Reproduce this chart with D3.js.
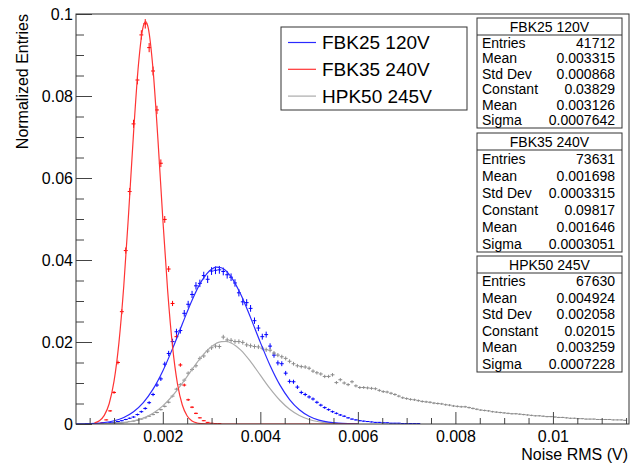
<!DOCTYPE html>
<html><head><meta charset="utf-8">
<script src="https://cdn.jsdelivr.net/npm/d3@7"></script>
<style>
body{margin:0;background:#fff}
svg{display:block}
text{font-family:"Liberation Sans",Arial,Helvetica,sans-serif}
</style>
</head><body>
<svg id="c" width="636" height="463"></svg>
<script>
// ---------------- DATA ----------------
const binCenters = [
  0.00028,0.00036,0.00044,0.00052,0.0006,0.00068,0.00076,
  0.00084,0.00092,0.001,0.00108,0.00116,0.00124,0.00132,0.0014,0.00148,0.00156,
  0.00164,0.00172,0.0018,0.00188,0.00196,0.00204,0.00212,0.0022,0.00228,0.00236,
  0.00244,0.00252,0.0026,0.00268,0.00276,0.00284,0.00292,0.003,0.00308,0.00316,
  0.00324,0.00332,0.0034,0.00348,0.00356,0.00364,0.00372,0.0038,0.00388,0.00396,
  0.00404,0.00412,0.0042,0.00428,0.00436,0.00444,0.00452,0.0046,0.00468,0.00476,
  0.00484,0.00492,0.005,0.00508,0.00516,0.00524,0.00532,0.0054,0.00548,0.00556,
  0.00564,0.00572,0.0058,0.00588,0.00596,0.00604,0.00612,0.0062,0.00628,0.00636,
  0.00644,0.00652,0.0066,0.00668,0.00676,0.00684,0.00692,0.007,0.00708,0.00716,
  0.00724,0.00732,0.0074,0.00748,0.00756,0.00764,0.00772,0.0078,0.00788,0.00796,
  0.00804,0.00812,0.0082,0.00828,0.00836,0.00844,0.00852,0.0086,0.00868,0.00876,
  0.00884,0.00892,0.009,0.00908,0.00916,0.00924,0.00932,0.0094,0.00948,0.00956,
  0.00964,0.00972,0.0098,0.00988,0.00996,0.01004,0.01012,0.0102,0.01028,0.01036,
  0.01044,0.01052,0.0106,0.01068,0.01076,0.01084,0.01092,0.011,0.01108,0.01116,
  0.01124,0.01132,0.0114,0.01148
];
const binHalfWidth = 0.00004;

const fbk25Values = [
  0,0,0,0,0,0,0.0001,
  0.0002,0.0003,0.0004,0.0006,0.0008,0.0011,0.0014,0.0017,0.0023,0.0030,
  0.0038,0.0052,0.0072,0.0095,0.0110,0.0146,0.0172,0.0201,0.0225,0.0228,
  0.0270,0.0292,0.0316,0.0337,0.0343,0.0362,0.0353,0.0373,0.0375,0.0376,
  0.0372,0.0364,0.0358,0.0344,0.0320,0.0298,0.0296,0.0282,0.0252,0.0234,
  0.0213,0.0218,0.0190,0.0168,0.0149,0.0147,0.0124,0.0104,0.0103,0.0090,
  0.0077,0.0072,0.0066,0.0061,0.0053,0.0046,0.0040,0.0035,0.0030,0.0026,
  0.0022,0.0019,0.0015,0.0012,0.0010,0.0008,0.0007,0.0006,0.0005,0.0004,
  0.0004,0.0003,0.0003,0.0002,0.0002,0.0002,0.0001,0.0001,0.0001,0.0001,
  0.0001
];
const fbk35Values = [
  0,0,0,0,0,0.0001,0.0003,
  0.0010,0.0032,0.0077,0.0150,0.0274,0.0423,0.0567,0.0732,0.0839,0.0949,
  0.0976,0.0918,0.0861,0.0766,0.0636,0.0499,0.0378,0.0294,0.0213,0.0144,
  0.0095,0.0059,0.0041,0.0026,0.0015,0.0008,0.0004,0.0002,0.0001,0.0001
];
const hpk50Values = [
  0,0,0,0,0,0,0,
  0.0001,0.0001,0.0002,0.0003,0.0003,0.0004,0.0006,0.0007,0.0009,0.0012,
  0.0015,0.0019,0.0023,0.0028,0.0035,0.0043,0.0053,0.0068,0.0085,0.0096,
  0.0107,0.0124,0.0133,0.0142,0.0160,0.0166,0.0178,0.0186,0.0190,0.0189,
  0.0212,0.0205,0.0204,0.0201,0.0201,0.0199,0.0193,0.0191,0.0189,0.0188,
  0.0185,0.0181,0.0180,0.0173,0.0168,0.0164,0.0160,0.0153,0.0147,0.0142,
  0.0140,0.0139,0.0136,0.0129,0.0125,0.0122,0.0116,0.0116,0.0120,0.0101,
  0.0108,0.0100,0.0096,0.0103,0.0093,0.0089,0.0089,0.0088,0.0087,0.0086,
  0.0082,0.0079,0.0078,0.0075,0.0072,0.0068,0.0064,0.0062,0.0060,0.0059,
  0.0057,0.0055,0.0054,0.0053,0.0051,0.0050,0.0049,0.0047,0.0046,0.0044,
  0.0043,0.0042,0.0042,0.0040,0.0038,0.0036,0.0034,0.0033,0.0032,0.0030,
  0.0029,0.0028,0.0027,0.0026,0.0025,0.0025,0.0024,0.0023,0.0022,0.0021,
  0.0020,0.0020,0.0019,0.0018,0.0018,0.0017,0.0016,0.0016,0.0015,0.0014,
  0.0014,0.0013,0.0013,0.0012,0.0012,0.0012,0.0011,0.0011,0.0011,0.0011,
  0.0010,0.0010,0.0010,0.0009
];

// fit curves
const fbk35FitX = [0.0006,0.0007,0.0008,0.0009,0.0010,0.0011,0.0012,0.0013,0.0014,0.0015,0.0016,0.00165,0.0017,0.0018,0.0019,0.0020,0.0021,0.0022,0.0023,0.0024,0.0025,0.0026,0.0027,0.0028,0.0029,0.0030,0.0040,0.0050,0.0060];
const fbk35FitY = [0.000275,0.000803,0.0021,0.00494,0.01044,0.0198,0.03373,0.0516,0.07094,0.08755,0.09706,0.09816,0.09665,0.08643,0.06942,0.05009,0.03244,0.01888,0.00986,0.00463,0.00195,0.00074,0.00025,0.00008,0.00002,0,0,0,0];
const fbk25FitX = [0.0002,0.0004,0.0006,0.0008,0.0010,0.0012,0.0014,0.0016,0.0018,0.0020,0.0022,0.0024,0.0026,0.0028,0.0030,0.0031,0.0032,0.0034,0.0036,0.0038,0.0040,0.0042,0.0044,0.0046,0.0048,0.0050,0.0052,0.0054,0.0056,0.0058,0.0060];
const fbk25FitY = [0.000025,0.000066,0.000162,0.000373,0.000799,0.0016,0.00299,0.00521,0.0085,0.01294,0.01838,0.02438,0.03021,0.03496,0.03777,0.03827,0.03811,0.0359,0.03159,0.02595,0.01991,0.01427,0.00954,0.00596,0.00347,0.00189,0.000963,0.000457,0.000203,0.000084,0.000033];
const hpk50FitX = [0.0002,0.0004,0.0006,0.0008,0.0010,0.0012,0.0014,0.0016,0.0018,0.0020,0.0022,0.0024,0.0026,0.0028,0.0030,0.0032,0.0033,0.0034,0.0036,0.0038,0.0040,0.0042,0.0044,0.0046,0.0048,0.0050,0.0052,0.0054,0.0056,0.0058,0.0060];
const hpk50FitY = [0.0000026,0.000008,0.000023,0.000062,0.000153,0.000348,0.000737,0.001447,0.002628,0.00442,0.00689,0.00995,0.0133,0.01647,0.0189,0.02008,0.02012,0.01977,0.01803,0.01523,0.01191,0.00863,0.0058,0.0036,0.00208,0.00111,0.000547,0.000251,0.000106,0.000042,0.000015];

const xTickValues = [0.002,0.004,0.006,0.008,0.01];
const xTickLabels = ["0.002","0.004","0.006","0.008","0.01"];
const yTickValues = [0,0.02,0.04,0.06,0.08,0.1];
const yTickLabels = ["0","0.02","0.04","0.06","0.08","0.1"];

const seriesNames = ["FBK25 120V","FBK35 240V","HPK50 245V"];
const seriesEntries = [41712,73631,67630];
const statLabels = ["Entries","Mean","Std Dev","Constant","Mean","Sigma"];
const fbk25Stats = ["41712","0.003315","0.000868","0.03829","0.003126","0.0007642"];
const fbk35Stats = ["73631","0.001698","0.0003315","0.09817","0.001646","0.0003051"];
const hpk50Stats = ["67630","0.004924","0.002058","0.02015","0.003259","0.0007228"];

// ---------------- DRAWING ----------------
const svg = d3.select("#c");
const F = {l:76, r:629, t:14, b:424};
const x = d3.scaleLinear().domain([0.00022,0.01156]).range([F.l,F.r]);
const y = d3.scaleLinear().domain([0,0.1]).range([F.b,F.t]);

svg.append("rect").attr("width",636).attr("height",463).attr("fill","#fff");
svg.append("defs").append("clipPath").attr("id","clip")
  .append("rect").attr("x",F.l).attr("y",F.t).attr("width",F.r-F.l).attr("height",F.b-F.t);

const colors = {blue:"#0000ff", red:"#ff0000", gray:"#8c8c8c"};
const fitColors = {blue:"#2a2aff", red:"#ff3434", gray:"#ababab"};

function drawHist(values, N, color){
  const pts = binCenters.map((c,i)=>({c, v: values[i]||0})).filter(d=>d.v>0);
  const g = svg.append("g").attr("clip-path","url(#clip)")
    .attr("stroke",color).attr("stroke-width",1).attr("fill","none");
  g.selectAll("line.h").data(pts).join("line").attr("class","h")
    .attr("x1",d=>x(d.c-binHalfWidth)).attr("x2",d=>x(d.c+binHalfWidth))
    .attr("y1",d=>y(d.v)).attr("y2",d=>y(d.v));
  g.selectAll("line.v").data(pts).join("line").attr("class","v")
    .attr("x1",d=>x(d.c)).attr("x2",d=>x(d.c))
    .attr("y1",d=>y(d.v-Math.sqrt(d.v/N))).attr("y2",d=>y(d.v+Math.sqrt(d.v/N)));
}
function drawFit(xs, ys, color){
  const line = d3.line().x(d=>x(d[0])).y(d=>y(d[1])).curve(d3.curveMonotoneX);
  svg.append("path").attr("clip-path","url(#clip)")
    .datum(xs.map((v,i)=>[v,ys[i]]))
    .attr("d",line).attr("fill","none").attr("stroke",color).attr("stroke-width",1.2);
}

drawHist(fbk25Values, seriesEntries[0], colors.blue);
drawHist(fbk35Values, seriesEntries[1], colors.red);
drawHist(hpk50Values, seriesEntries[2], colors.gray);
drawFit(hpk50FitX, hpk50FitY, fitColors.gray);
drawFit(fbk25FitX, fbk25FitY, fitColors.blue);
drawFit(fbk35FitX, fbk35FitY, fitColors.red);

// axes (ticks inside the frame, ROOT style)
const axisColor = "#444";
const gx = svg.append("g").attr("transform",`translate(0,${F.b})`)
  .call(d3.axisBottom(x).tickValues(xTickValues).tickFormat((d,i)=>xTickLabels[i]).tickSize(-12).tickPadding(7));
const minorX = d3.range(1,24).map(i=>i*0.0005).filter(v=>Math.abs(v/0.002-Math.round(v/0.002))>1e-6 && v>0.00022 && v<0.01156);
const gxm = svg.append("g").attr("transform",`translate(0,${F.b})`)
  .call(d3.axisBottom(x).tickValues(minorX).tickFormat("").tickSize(-6));
const gy = svg.append("g").attr("transform",`translate(${F.l},0)`)
  .call(d3.axisLeft(y).tickValues(yTickValues).tickFormat((d,i)=>yTickLabels[i]).tickSize(-16).tickPadding(3));
const minorY = d3.range(1,20).map(i=>i*0.005).filter(v=>Math.abs(v/0.02-Math.round(v/0.02))>1e-6);
const gym = svg.append("g").attr("transform",`translate(${F.l},0)`)
  .call(d3.axisLeft(y).tickValues(minorY).tickFormat("").tickSize(-8));
[gx,gxm,gy,gym].forEach(g=>{
  g.select(".domain").remove();
  g.attr("font-size",16).attr("font-family",'"Liberation Sans",Arial,sans-serif');
  g.selectAll("line").attr("stroke",axisColor);
  g.selectAll("text").attr("fill","#000");
});

// frame
svg.append("rect").attr("x",F.l).attr("y",F.t).attr("width",F.r-F.l).attr("height",F.b-F.t)
  .attr("fill","none").attr("stroke","#333").attr("stroke-width",1);

// axis titles
svg.append("text").attr("transform","translate(28,14) rotate(-90)")
  .attr("text-anchor","end").attr("font-size",16).text("Normalized Entries");
svg.append("text").attr("x",628).attr("y",460).attr("text-anchor","end")
  .attr("font-size",16).text("Noise RMS (V)");

// legend
const leg = {x:281, y:27, w:186, h:83};
svg.append("rect").attr("x",leg.x).attr("y",leg.y).attr("width",leg.w).attr("height",leg.h)
  .attr("fill","#fff").attr("stroke","#333");
const legColors = [fitColors.blue, fitColors.red, fitColors.gray];
seriesNames.forEach((name,i)=>{
  const cy = 42.5 + i*26.8;
  svg.append("line").attr("x1",288).attr("x2",316).attr("y1",cy).attr("y2",cy)
    .attr("stroke",legColors[i]).attr("stroke-width",1.2);
  svg.append("text").attr("x",322).attr("y",cy).attr("dy","0.36em")
    .attr("font-size",19).text(name);
});

// stats boxes
const statSets = [fbk25Stats, fbk35Stats, hpk50Stats];
const boxTops = [18, 133, 256];
const boxHeights = [110, 119, 116];
const bx = 477, bw = 145, titleH = 17;
statSets.forEach((vals,b)=>{
  const top = boxTops[b], h = boxHeights[b];
  const rowH = (h - titleH)/6;
  svg.append("rect").attr("x",bx).attr("y",top).attr("width",bw).attr("height",h)
    .attr("fill","#fff").attr("stroke","#333");
  svg.append("line").attr("x1",bx).attr("x2",bx+bw).attr("y1",top+titleH).attr("y2",top+titleH)
    .attr("stroke","#333");
  svg.append("text").attr("x",bx+bw/2).attr("y",top+titleH/2+0.5).attr("dy","0.36em")
    .attr("text-anchor","middle").attr("font-size",14).text(seriesNames[b]);
  statLabels.forEach((lab,i)=>{
    const cy = top + titleH + rowH*(i+0.5);
    svg.append("text").attr("x",bx+5).attr("y",cy).attr("dy","0.36em")
      .attr("font-size",14).text(lab);
    svg.append("text").attr("x",bx+bw-7).attr("y",cy).attr("dy","0.36em")
      .attr("text-anchor","end").attr("font-size",14).text(vals[i]);
  });
});
</script>
</body></html>
